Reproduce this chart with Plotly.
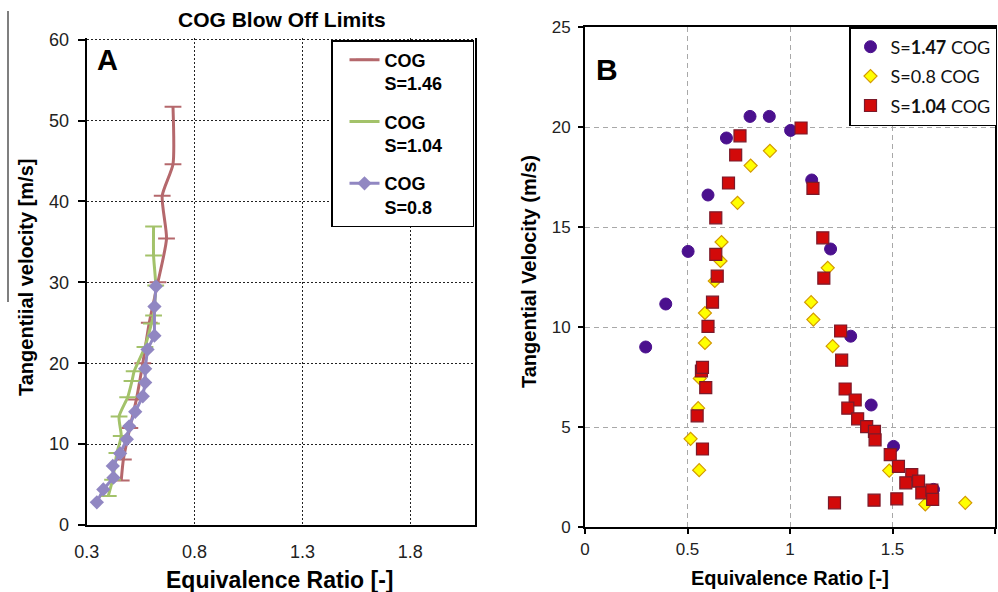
import plotly.graph_objects as go

# ---------------- Panel A data (COG blow-off limits) ----------------
a_s146_x = [0.46, 0.47, 0.50, 0.53, 0.56, 0.59, 0.63, 0.67, 0.65, 0.70, 0.70]
a_s146_y = [5.5, 8.1, 12.0, 15.5, 20.0, 25.0, 30.0, 35.4, 40.7, 44.6, 51.7]

a_s104_x = [0.40, 0.42, 0.44, 0.46, 0.45, 0.49, 0.51, 0.52, 0.57, 0.60, 0.61, 0.62, 0.61, 0.61]
a_s104_y = [3.6, 5.6, 8.9, 11.0, 13.4, 15.8, 17.8, 19.0, 22.0, 24.9, 25.9, 29.6, 33.3, 36.9]

a_s08_x = [0.347, 0.377, 0.424, 0.421, 0.455, 0.486, 0.497, 0.525, 0.56, 0.571, 0.571, 0.582, 0.614, 0.614, 0.621]
a_s08_y = [2.8, 4.4, 5.85, 7.3, 8.85, 10.6, 12.2, 14.0, 15.9, 17.6, 19.3, 21.7, 23.4, 27.0, 29.5]

a_xticks = [0.3, 0.8, 1.3, 1.8]
a_xticklabels = ["0.3", "0.8", "1.3", "1.8"]
a_yticks = [0, 10, 20, 30, 40, 50, 60]

# ---------------- Panel B data ----------------
b_s147_x = [0.296, 0.394, 0.503, 0.60, 0.69, 0.805, 0.899, 1.003, 1.106, 1.198, 1.296, 1.396, 1.505, 1.70]
b_s147_y = [9.0, 11.15, 13.78, 16.6, 19.45, 20.53, 20.53, 19.83, 17.35, 13.9, 9.54, 6.1, 4.03, 1.88]

b_s08_x = [0.557, 0.515, 0.552, 0.56, 0.585, 0.585, 0.633, 0.661, 0.666, 0.744, 0.808, 0.902,
           1.103, 1.114, 1.184, 1.208, 1.484, 1.66, 1.855]
b_s08_y = [2.84, 4.41, 5.94, 7.43, 9.2, 10.7, 12.3, 13.3, 14.25, 16.21, 18.07, 18.81,
           11.24, 10.37, 12.96, 9.04, 2.82, 1.13, 1.21]

b_s104_x = [0.573, 0.547, 0.589, 0.568, 0.573, 0.60, 0.622, 0.645, 0.638, 0.638, 0.70, 0.735, 0.756,
            1.054, 1.112, 1.16, 1.165, 1.247, 1.252, 1.269, 1.318, 1.282, 1.33, 1.374, 1.412, 1.415,
            1.489, 1.529, 1.594, 1.565, 1.627, 1.643, 1.692, 1.696, 1.217, 1.41, 1.521]
b_s104_y = [3.9, 5.56, 6.97, 7.8, 7.98, 10.03, 11.24, 12.54, 13.63, 15.46, 17.2, 18.6, 19.56,
            19.95, 16.93, 14.46, 12.44, 9.8, 8.34, 6.9, 6.35, 5.94, 5.41, 5.02, 4.78, 4.36,
            3.62, 3.03, 2.62, 2.21, 2.29, 1.71, 1.84, 1.38, 1.21, 1.34, 1.41]

b_xticks = [0, 0.5, 1, 1.5, 2]
b_xticklabels = ["0", "0.5", "1", "1.5", "2"]
b_yticks = [0, 5, 10, 15, 20, 25]

FONT = "Liberation Sans, Arial, sans-serif"
W, H = 998, 592
PAD = "&nbsp;" * 5

fig = go.Figure()

# Panel A traces
fig.add_trace(go.Scatter(
    x=a_s146_x, y=a_s146_y, mode="lines+markers", name="COG<br>S=1.46" + PAD,
    line=dict(color="#B5686C", width=3, shape="spline", smoothing=0.6),
    marker=dict(symbol="line-ew", size=12, line=dict(color="#B5686C", width=2)),
    xaxis="x", yaxis="y", legend="legend", legendgroup="a1"))
fig.add_trace(go.Scatter(
    x=a_s104_x, y=a_s104_y, mode="lines+markers", name="COG<br>S=1.04",
    line=dict(color="#A3C26A", width=3, shape="spline", smoothing=0.6),
    marker=dict(symbol="line-ew", size=12, line=dict(color="#A3C26A", width=2)),
    xaxis="x", yaxis="y", legend="legend", legendgroup="a2"))
fig.add_trace(go.Scatter(
    x=a_s08_x, y=a_s08_y, mode="lines+markers", name="COG<br>S=0.8",
    line=dict(color="#9187C2", width=3),
    marker=dict(symbol="diamond", size=11, color="#9187C2"),
    xaxis="x", yaxis="y", legend="legend", legendgroup="a3"))

# Panel B traces
fig.add_trace(go.Scatter(
    x=b_s147_x, y=b_s147_y, mode="markers", name="S=<b>1.47</b> COG",
    marker=dict(symbol="circle", size=12, color="#4B108E", line=dict(color="#4B108E", width=1)),
    xaxis="x2", yaxis="y2", legend="legend2", legendgroup="b1"))
fig.add_trace(go.Scatter(
    x=b_s08_x, y=b_s08_y, mode="markers", name="S=0.8 COG",
    marker=dict(symbol="diamond", size=10, color="#FFFF00", line=dict(color="#D49A00", width=1.2)),
    xaxis="x2", yaxis="y2", legend="legend2", legendgroup="b2"))
fig.add_trace(go.Scatter(
    x=b_s104_x, y=b_s104_y, mode="markers", name="S=<b>1.04</b> COG",
    marker=dict(symbol="square", size=12, color="#D20A0A", line=dict(color="#7A1A2A", width=1.2)),
    xaxis="x2", yaxis="y2", legend="legend2", legendgroup="b3"))

ya_top_px = 38.0
ya_bot_px = 525.0
yb_top_px = 27.0
yb_bot_px = 527.0

fig.update_layout(
    width=W, height=H,
    margin=dict(l=0, r=0, t=0, b=0, autoexpand=False),
    paper_bgcolor="white", plot_bgcolor="white",
    font=dict(family=FONT, color="#222222"),
    xaxis=dict(
        domain=[86.7 / W, 475 / W], range=[0.3, 2.1],
        tickvals=a_xticks, ticktext=a_xticklabels,
        showgrid=True, gridcolor="#222222", griddash="2px,2px", gridwidth=1,
        showline=True, linecolor="black", linewidth=2, mirror=False,
        ticks="", tickfont=dict(size=18, family=FONT, color="#222"),
        ticklabelstandoff=9, zeroline=False, anchor="y", automargin=False),
    yaxis=dict(
        domain=[1 - ya_bot_px / H, 1 - ya_top_px / H], range=[0, 60.2],
        tickvals=a_yticks,
        showgrid=True, gridcolor="#222222", griddash="2px,2px", gridwidth=1,
        showline=True, linecolor="black", linewidth=2, mirror=True,
        ticks="outside", ticklen=7, tickwidth=1.5, tickcolor="black",
        tickfont=dict(size=18, family=FONT, color="#222"),
        ticklabelstandoff=5, zeroline=False, anchor="x", automargin=False),
    xaxis2=dict(
        domain=[585 / W, 995 / W], range=[0, 2],
        tickvals=b_xticks, ticktext=b_xticklabels,
        showgrid=True, gridcolor="#A8A8A8", griddash="5px,4px", gridwidth=1,
        showline=True, linecolor="black", linewidth=2, mirror=True,
        ticks="outside", ticklen=5, tickwidth=1.5, tickcolor="black",
        tickfont=dict(size=17, family=FONT, color="#222"),
        ticklabelstandoff=1, zeroline=False, anchor="y2", automargin=False),
    yaxis2=dict(
        domain=[1 - yb_bot_px / H, 1 - yb_top_px / H], range=[0, 25],
        tickvals=b_yticks,
        showgrid=True, gridcolor="#A8A8A8", griddash="5px,4px", gridwidth=1,
        showline=True, linecolor="black", linewidth=2, mirror=True,
        ticks="outside", ticklen=5, tickwidth=1.5, tickcolor="black",
        tickfont=dict(size=17, family=FONT, color="#222"),
        ticklabelstandoff=4, zeroline=False, anchor="x2", automargin=False),
    legend=dict(
        x=331 / W, y=1 - 40 / H, xanchor="left", yanchor="top",
        bgcolor="white", bordercolor="black", borderwidth=1.5,
        font=dict(size=18, family=FONT, color="black", weight="bold"),
        valign="top", tracegroupgap=12, itemwidth=30, indentation=12),
    legend2=dict(
        x=997 / W, y=1 - 27 / H, xanchor="right", yanchor="top",
        bgcolor="white", bordercolor="black", borderwidth=1.5,
        font=dict(size=18, family="Lato, " + FONT, color="#111"),
        tracegroupgap=3, itemwidth=30),
    showlegend=True,
)

ann = []
def px_ann(text, x, y, size, angle=0, bold=True, xanchor="center"):
    ann.append(dict(
        text=("<b>%s</b>" % text) if bold else text,
        x=x / W, y=1 - y / H, xref="paper", yref="paper",
        xanchor=xanchor, yanchor="middle", showarrow=False, textangle=angle,
        font=dict(size=size, family=FONT, color="black")))

px_ann("COG Blow Off Limits", 282, 20, 21)
px_ann("Equivalence Ratio [-]", 279, 580, 23)
px_ann("Tangentiial velocity [m/s]", 26, 278, 20, angle=-90)
px_ann("A", 107, 60, 29)
px_ann("Equivalence Ratio [-]", 790, 578, 20)
px_ann("Tangential Velocity (m/s)", 529, 272, 20, angle=-90)
px_ann("B", 607, 70, 30)
fig.update_layout(annotations=ann)

# stray vertical rule at left edge of the source image
fig.add_shape(type="line", xref="paper", yref="paper",
              x0=8 / W, x1=8 / W, y0=1 - 11 / H, y1=1 - 302 / H,
              line=dict(color="#555555", width=1.5))

fig.write_html("out.html")
